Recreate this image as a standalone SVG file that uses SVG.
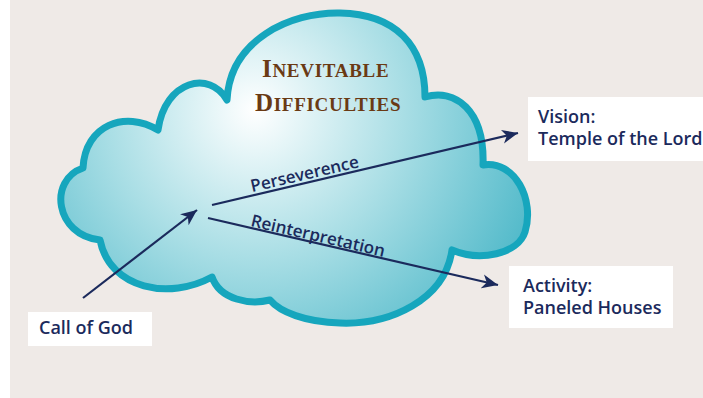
<svg xmlns="http://www.w3.org/2000/svg" width="703" height="398" viewBox="0 0 703 398">
<defs>
<radialGradient id="cloudFill" gradientUnits="userSpaceOnUse" cx="255" cy="110" r="330">
<stop offset="0" stop-color="#ffffff"/>
<stop offset="0.45" stop-color="#a9dee5"/>
<stop offset="1" stop-color="#3fb2c4"/>
</radialGradient>
<marker id="arr" markerUnits="userSpaceOnUse" markerWidth="18" markerHeight="16" viewBox="0 -8 18 16" refX="16" refY="0" orient="auto">
<path d="M0,-7 L16,0 L0,7 L4.5,0 Z" fill="#1b2a5c"/>
</marker>
<style>
.box{fill:#ffffff}
.lbl{font-family:"Open Sans","Liberation Sans",sans-serif;font-weight:600;font-size:18px;fill:#1b2a5c}
.elbl{font-family:"Open Sans","Liberation Sans",sans-serif;font-weight:600;font-size:17px;fill:#1b2a5c}
.title{font-family:"Liberation Serif",serif;font-weight:bold;fill:#6a3a14;letter-spacing:0.7px}
.conn{stroke:#1b2a5c;stroke-width:2.2;fill:none;marker-end:url(#arr)}
</style>
</defs>
<rect x="0" y="0" width="703" height="398" fill="#ffffff"/>
<rect x="10" y="0" width="693" height="398" fill="#efeae7"/>
<g id="cloud">
<path d="M227,100 C230,40 290,12 340,13 C395,14 425,45 425,97 C455,88 485,110 483,165 C515,160 535,200 525,232 C518,254 480,262 452,250 C445,300 390,325 340,323 C305,322 280,312 270,300 C250,305 220,300 212,277 C170,300 110,290 100,240 C55,235 48,180 83,168 C85,125 125,110 158,130 C165,80 210,70 227,100 Z" fill="url(#cloudFill)" stroke="#16a6bd" stroke-width="7" stroke-linejoin="round"/>
<text class="title" x="262" y="77"><tspan font-size="25">I</tspan><tspan font-size="19">NEVITABLE</tspan></text>
<text class="title" x="255" y="111"><tspan font-size="25">D</tspan><tspan font-size="19">IFFICULTIES</tspan></text>
</g>
<g id="connectors">
<line class="conn" x1="83" y1="298" x2="197" y2="210"/>
<line class="conn" x1="212" y1="205" x2="518" y2="133"/>
<line class="conn" x1="208" y1="218" x2="498" y2="285"/>
<text class="elbl" transform="translate(252,192) rotate(-13)">Perseverence</text>
<text class="elbl" transform="translate(250,226) rotate(13)">Reinterpretation</text>
</g>
<g id="vision">
<rect class="box" x="528" y="97" width="175" height="64"/>
<text class="lbl" x="538" y="123">Vision:</text>
<text class="lbl" x="538" y="145">Temple of the Lord</text>
</g>
<g id="activity">
<rect class="box" x="509" y="266" width="164" height="62"/>
<text class="lbl" x="523" y="292">Activity:</text>
<text class="lbl" x="523" y="314">Paneled Houses</text>
</g>
<g id="call">
<rect class="box" x="28" y="312" width="124" height="34"/>
<text class="lbl" x="39" y="334">Call of God</text>
</g>
</svg>
